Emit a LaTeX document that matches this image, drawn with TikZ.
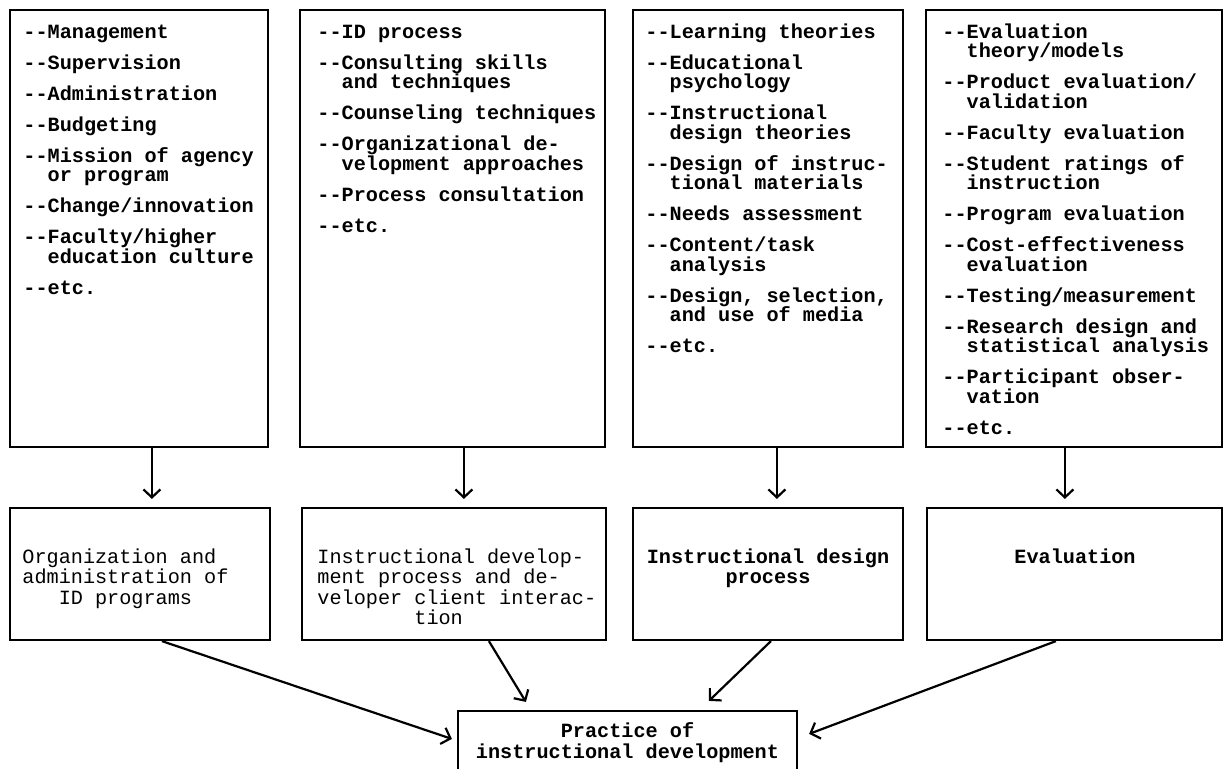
\documentclass[tikz,border=0pt]{standalone}
\usepackage{fontspec}
\newfontfamily\mono{Liberation Mono}
\usetikzlibrary{arrows.meta,calc,fit}
\begin{document}
\begin{tikzpicture}[x=0.5pt,y=-0.5pt,
  frame/.style={draw, line width=1.1pt, inner sep=0pt},
  % multi-line nodes are placed by the baseline of their last line
  toplist/.style={anchor=base west, inner sep=0pt, align=left,
    font=\mono\bfseries\fontsize{10.1}{9.75}\selectfont},
  area/.style={inner sep=0pt, font=\mono\fontsize{10.1}{10.25}\selectfont},
  areabold/.style={area, font=\mono\bfseries\fontsize{10.1}{10.25}\selectfont},
  conn/.style={line width=1.1pt,
    -{Straight Barb[length=4pt,width=8.5pt,line width=1.1pt]}},
]
\useasboundingbox (0,0) rectangle (1224,768);
\clip (0,0) rectangle (1224,768);

% upper row: areas of knowledge
\node[frame, fit={(10,10)(268,447)}] (t1) {};
\node[frame, fit={(300,10)(605,447)}] (t2) {};
\node[frame, fit={(633,10)(903,447)}] (t3) {};
\node[frame, fit={(926,10)(1222,447)}] (t4) {};

\newcommand\ind{\hphantom{--}}
\newcommand\gap{\\[5.75pt]}

\node[toplist] (t1txt) at (23,294) {--Management\gap
--Supervision\gap
--Administration\gap
--Budgeting\gap
--Mission of agency\\\ind or program\gap
--Change/innovation\gap
--Faculty/higher\\\ind education culture\gap
--etc.};

\node[toplist] (t2txt) at (317,232) {--ID process\gap
--Consulting skills\\\ind and techniques\gap
--Counseling techniques\gap
--Organizational de-\\\ind velopment approaches\gap
--Process consultation\gap
--etc.};

\node[toplist] (t3txt) at (645,352.5) {--Learning theories\gap
--Educational\\\ind psychology\gap
--Instructional\\\ind design theories\gap
--Design of instruc-\\\ind tional materials\gap
--Needs assessment\gap
--Content/task\\\ind analysis\gap
--Design, selection,\\\ind and use of media\gap
--etc.};

\node[toplist] (t4txt) at (942,434) {--Evaluation\\\ind theory/models\gap
--Product evaluation/\\\ind validation\gap
--Faculty evaluation\gap
--Student ratings of\\\ind instruction\gap
--Program evaluation\gap
--Cost-effectiveness\\\ind evaluation\gap
--Testing/measurement\gap
--Research design and\\\ind statistical analysis\gap
--Participant obser-\\\ind vation\gap
--etc.};

% lower row: areas of practice
\node[frame, fit={(10,508)(270,640)}] (b1) {};
\node[frame, fit={(302,508)(606,640)}] (b2) {};
\node[frame, fit={(633,508)(903,640)}] (b3) {};
\node[frame, fit={(927,508)(1222,640)}] (b4) {};

\node[area, anchor=base west, align=left] (b1txt) at (22,604)
  {Organization and\\administration of\\\hphantom{xxx}ID programs};
\node[area, anchor=base west, align=left] (b2txt) at (317,624.5)
  {Instructional develop-\\ment process and de-\\veloper client interac-\\\hphantom{xxxxxxxx}tion};
\node[areabold, anchor=base, align=center] (b3txt) at (768,583.5)
  {Instructional design\\process};
\node[areabold, anchor=base] (b4txt) at (1075,563) {Evaluation};

% goal box, open at the foot of the page
\node[frame, fit={(458,711)(797,800)}] (fin) {};
\node[areabold, anchor=base, align=center,
  font=\mono\bfseries\fontsize{10.1}{10.5}\selectfont] (fintxt) at (627.5,758)
  {Practice of\\instructional development};

% knowledge feeds practice
\draw[conn] ($(t1.south west)+(143,0)$) -- ($(b1.north west)+(143,-8)$);
\draw[conn] ($(t2.south west)+(165,0)$) -- ($(b2.north west)+(163,-8)$);
\draw[conn] ($(t3.south west)+(145,0)$) -- ($(b3.north west)+(145,-8)$);
\draw[conn] ($(t4.south west)+(140,0)$) -- ($(b4.north west)+(139,-8)$);

% practice areas converge
\draw[conn] ($(b1.south west)+(153,0)$) -- ($(fin.north west)+(-5,29)$);
\draw[conn] ($(b2.south west)+(188,0)$) -- ($(fin.north west)+(69,-8)$);
\draw[conn] ($(b3.south west)+(139,0)$) -- ($(fin.north west)+(252,-9)$);
\draw[conn] ($(b4.south west)+(130,0)$) -- ($(fin.north east)+(11,24)$);
\end{tikzpicture}
\end{document}
